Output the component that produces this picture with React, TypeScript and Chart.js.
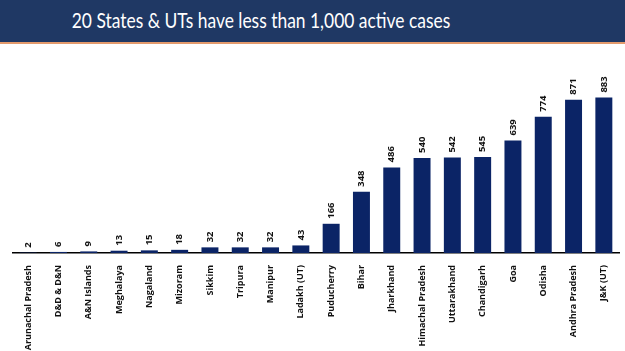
import React, { useEffect, useRef } from "react";
import { Chart, registerables } from "chart.js";

Chart.register(...registerables);

const categories = [
  "Arunachal Pradesh", "D&D & D&N", "A&N Islands", "Meghalaya", "Nagaland",
  "Mizoram", "Sikkim", "Tripura", "Manipur", "Ladakh (UT)",
  "Puducherry", "Bihar", "Jharkhand", "Himachal Pradesh", "Uttarakhand",
  "Chandigarh", "Goa", "Odisha", "Andhra Pradesh", "J&K (UT)",
];
const activeCases = [2, 6, 9, 13, 15, 18, 32, 32, 32, 43, 166, 348, 486, 540, 542, 545, 639, 774, 871, 883];
const titleText = "20 States & UTs have less than 1,000 active cases";

const BAR_COLOR = "#0b2466";
const LABEL_FONT = "'Open Sans', 'DejaVu Sans', sans-serif";

const valueLabelPlugin = {
  id: "valueLabels",
  afterDatasetsDraw(chart: any) {
    const ctx = chart.ctx;
    const meta = chart.getDatasetMeta(0);
    const data = chart.data.datasets[0].data;
    ctx.save();
    ctx.fillStyle = "#111";
    ctx.font = `bold 9.5px ${LABEL_FONT}`;
    ctx.textAlign = "left";
    ctx.textBaseline = "middle";
    meta.data.forEach((bar: any, i: number) => {
      ctx.save();
      ctx.translate(bar.x, bar.y - 5);
      ctx.rotate(-Math.PI / 2);
      ctx.fillText(String(data[i]), 0, 0);
      ctx.restore();
    });
    ctx.restore();
  },
};

export default function App() {
  const canvasRef = useRef<HTMLCanvasElement>(null);

  useEffect(() => {
    if (!canvasRef.current) return;
    const chart = new Chart(canvasRef.current, {
      type: "bar",
      data: {
        labels: categories,
        datasets: [
          {
            data: activeCases,
            backgroundColor: BAR_COLOR,
            borderWidth: 0,
            categoryPercentage: 1,
            barPercentage: 0.56,
          },
        ],
      },
      options: {
        animation: false,
        responsive: false,
        maintainAspectRatio: false,
        layout: { padding: { top: 33, left: 13, right: 6, bottom: 0 } },
        plugins: {
          legend: { display: false },
          tooltip: { enabled: false },
          title: { display: false },
        },
        scales: {
          x: {
            grid: { display: false },
            border: { display: true, color: "#000", width: 1.5 },
            ticks: {
              minRotation: 90,
              maxRotation: 90,
              autoSkip: false,
              color: "#111",
              padding: 4,
              font: { family: LABEL_FONT, size: 9, weight: "bold" },
            },
            afterFit(scale: any) {
              scale.height = 98;
            },
          },
          y: {
            display: false,
            min: 0,
            max: 1000,
          },
        },
      },
      plugins: [valueLabelPlugin],
    });
    return () => chart.destroy();
  }, []);

  return (
    <div
      style={{
        position: "fixed",
        left: 0,
        top: 0,
        width: 625,
        height: 351,
        background: "#fff",
        overflow: "hidden",
      }}
    >
      <div
        style={{
          position: "absolute",
          left: 0,
          top: 0,
          width: 625,
          height: 42,
          background: "#1f3864",
          borderBottom: "2px solid #e39a6c",
        }}
      >
        <div
          style={{
            position: "absolute",
            left: 0,
            top: 0,
            width: 522,
            height: 40,
            lineHeight: "40px",
            textAlign: "center",
            color: "#fff",
            fontFamily: "Lato, 'Open Sans', sans-serif",
            fontSize: 21,
            whiteSpace: "nowrap",
            transform: "scaleX(0.83)",
            transformOrigin: "261px 20px",
          }}
        >
          {titleText}
        </div>
      </div>
      <canvas
        ref={canvasRef}
        width={625}
        height={307}
        style={{ position: "absolute", left: 0, top: 44, width: 625, height: 307 }}
      />
    </div>
  );
}
